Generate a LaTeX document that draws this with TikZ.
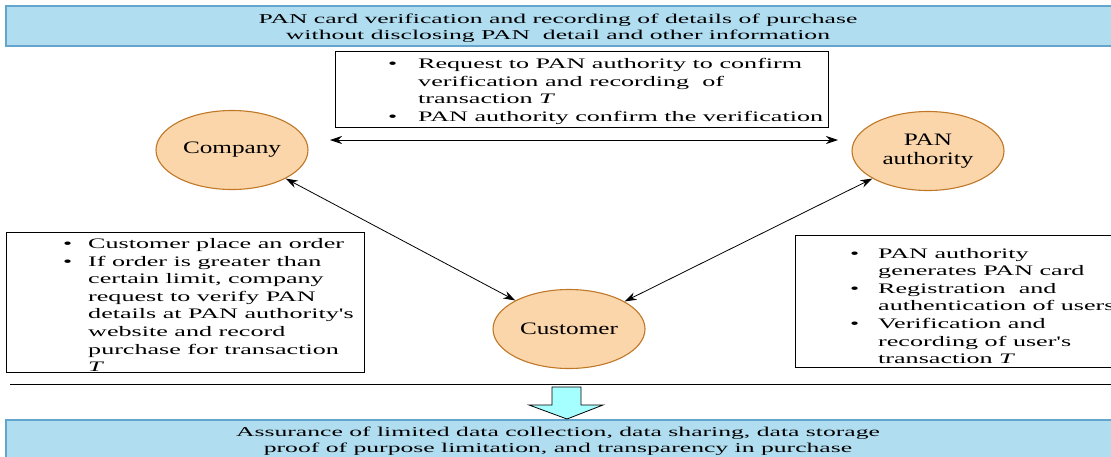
\documentclass[tikz,border=0pt]{standalone}
\usepackage{fontspec}
\setmainfont{Liberation Serif}
\newfontfamily\bannerfont[FakeStretch=1.9]{Liberation Serif}
\newfontfamily\listfont[FakeStretch=1.8]{Liberation Serif}
\newfontfamily\ovalfont[FakeStretch=1.44]{Liberation Serif}
\usetikzlibrary{arrows.meta,shapes.geometric}

\definecolor{bannerfill}{RGB}{176,221,240}
\definecolor{bannerline}{RGB}{100,165,205}
\definecolor{ovalfill}{RGB}{250,214,170}
\definecolor{ovalline}{RGB}{192,120,40}
\definecolor{arrowfill}{RGB}{166,255,255}

% bullet with a hanging indent of the given width
\newcommand\bul[1]{\makebox[#1][l]{\textbullet}}
\newcommand\ind[1]{\hspace*{#1}}

\tikzset{
  banner/.style={draw=bannerline, line width=1.5pt, fill=bannerfill,
    minimum width=1110pt, inner sep=0pt},
  bannertext/.style={align=center, inner sep=0pt,
    font=\bannerfont\fontsize{13.5}{15.5}\selectfont},
  oval/.style={ellipse, draw=ovalline, fill=ovalfill, line width=1.1pt,
    minimum width=152pt, minimum height=79pt, inner sep=0pt, align=center,
    font=\ovalfont\fontsize{17.5}{19}\selectfont},
  notebox/.style={draw=black, line width=0.8pt, fill=white, inner sep=0pt},
  notetext/.style={anchor=west, inner sep=0pt, align=left,
    font=\listfont\fontsize{14.5}{17.6}\selectfont},
  link/.style={{Stealth[length=12pt,width=8pt]}-{Stealth[length=12pt,width=8pt]},
    line width=0.8pt},
}

\begin{document}
\begin{tikzpicture}[x=1pt,y=-1pt]
\useasboundingbox (0,0) rectangle (1111,456);

% headline and conclusion bars
\node[banner, minimum height=40pt] (head) at (561,26) {};
\node[bannertext] (headtext) at (558,28)
  {PAN card verification and recording of details of purchase\\
   without disclosing PAN\ \ detail and other information};
\node[banner, minimum height=44pt] (foot) at (561,442) {};
\node[bannertext] (foottext) at (558,441)
  {Assurance of limited data collection, data sharing, data storage\\
   proof of purpose limitation, and transparency in purchase};

% the three parties
\node[oval] (company) at (232,150) {Company};
\node[oval] (pan) at (928,151) {PAN\\authority};
\node[oval] (customer) at (569,329) {Customer};

% exchange between company and PAN authority
\node[notebox, minimum width=493pt, minimum height=76pt] (msgbox) at (582,89.5) {};
\node[notetext] (msgtext) at (388,91.5)
  {\bul{30pt}Request to PAN authority to confirm\\
   \ind{30pt}verification and recording\ \ of\\
   \ind{30pt}transaction {\itshape T}\\
   \bul{30pt}PAN authority confirm the verification};
\coordinate (hl) at (330,140);
\coordinate (hr) at (838,140);
\draw[link] (hl) -- (hr);

% customer side notes
\node[notebox, minimum width=358pt, minimum height=140pt] (custbox) at (185,302) {};
\node[notetext] (custtext) at (63,305)
  {\bul{25pt}Customer place an order\\
   \bul{25pt}If order is greater than\\
   \ind{25pt}certain limit, company\\
   \ind{25pt}request to verify PAN\\
   \ind{25pt}details at PAN authority's\\
   \ind{25pt}website and record\\
   \ind{25pt}purchase for transaction\\
   \ind{25pt}{\itshape T}};

% PAN authority side notes
\node[notebox, minimum width=325pt, minimum height=132pt] (panbox) at (957.5,301) {};
\node[notetext] (pantext) at (850,306)
  {\bul{28pt}PAN authority\\
   \ind{28pt}generates PAN card\\
   \bul{28pt}Registration\ \ and\\
   \ind{28pt}authentication of users\\
   \bul{28pt}Verification and\\
   \ind{28pt}recording of user's\\
   \ind{28pt}transaction {\itshape T}};

% links to the customer
\draw[link] (company) -- (customer);
\draw[link] (pan) -- (customer);

% separator and outcome arrow
\coordinate (sepl) at (10,384);
\coordinate (sepr) at (1111,384);
\draw[line width=0.8pt] (sepl) -- (sepr);
\draw[line width=0.8pt, fill=arrowfill]
  (552,387) -- (581,387) -- (581,405) -- (603,405) -- (567,419)
  -- (529,405) -- (552,405) -- cycle;
\end{tikzpicture}
\end{document}
